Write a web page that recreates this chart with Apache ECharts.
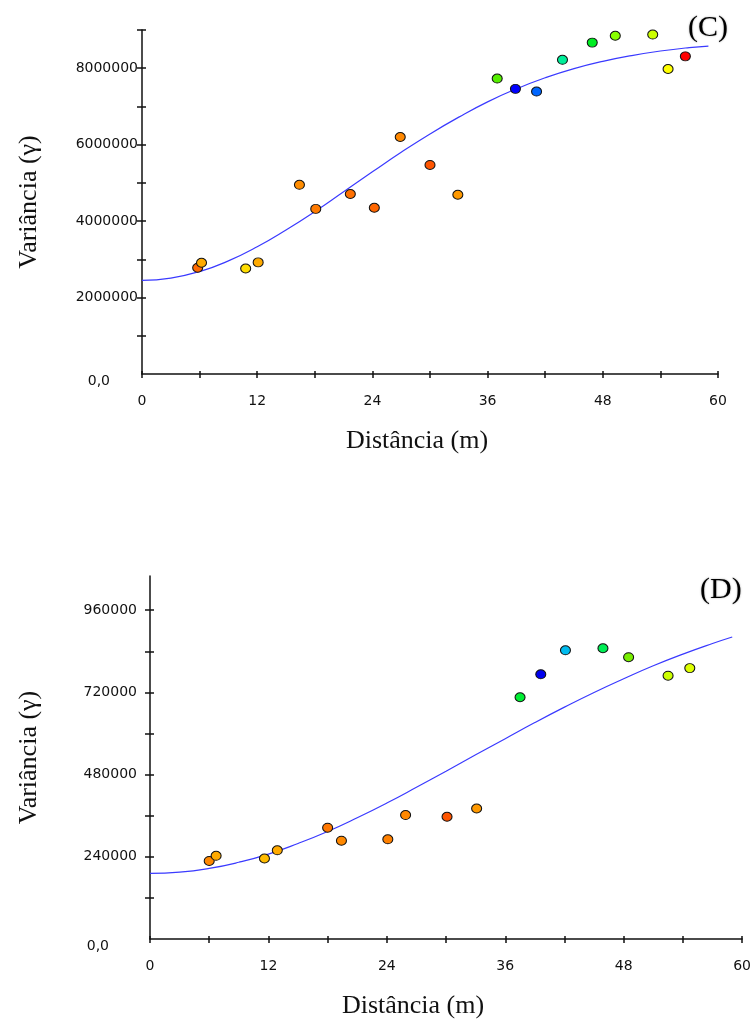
<!DOCTYPE html>
<html>
<head>
<meta charset="utf-8">
<title>Variogramas (C) e (D)</title>
<script src="https://cdn.jsdelivr.net/npm/echarts@6/dist/echarts.min.js"></script>
<style>
  html, body { margin: 0; padding: 0; background: #fff; }
  #chart { width: 754px; height: 1021px; }
</style>
</head>
<body>
<div id="chart"></div>
<script>
// (C) experimental variogram points
const distC = [5.8, 6.2, 10.8, 12.1, 16.4, 18.1, 21.7, 24.2, 26.9, 30.0, 32.9, 37.0, 38.9, 41.1, 43.8, 46.9, 49.3, 53.2, 54.8, 56.6];
const gammaC = [2780000, 2910000, 2760000, 2920000, 4950000, 4320000, 4710000, 4350000, 6200000, 5470000, 4690000, 7730000, 7460000, 7390000, 8220000, 8670000, 8850000, 8880000, 7980000, 8310000];
const colorsC = ['#ff6a00', '#ffaa00', '#ffdd00', '#ffaa00', '#ff8c00', '#ff7a00', '#ff7000', '#ff6600', '#ff8800', '#ff5500', '#ff9900', '#55ee00', '#0000ff', '#0066ff', '#00ee99', '#00ee22', '#88ff00', '#ccff00', '#ffff00', '#ff0000'];

// (D) experimental variogram points
const distD = [6.0, 6.7, 11.6, 12.9, 18.0, 19.4, 24.1, 25.9, 30.1, 33.1, 37.5, 39.6, 42.1, 45.9, 48.5, 52.5, 54.7];
const gammaD = [228000, 243000, 235000, 259000, 325000, 287000, 291000, 362000, 357000, 381000, 706000, 773000, 843000, 849000, 823000, 769000, 791000];
const colorsD = ['#ff8800', '#ffaa00', '#ffbb00', '#ffaa00', '#ff7700', '#ff8800', '#ff8000', '#ff8800', '#ff5500', '#ff9900', '#00ee33', '#0000ee', '#00bbee', '#00ee55', '#77ee00', '#ccff00', '#ddff00'];

// fitted model curves
const curveX = [0, 3, 6, 9, 12, 15, 18, 21, 24, 27, 30, 33, 36, 39, 42, 45, 48, 51, 54, 57, 59];
const curveC = [2450000, 2510000, 2680000, 2960000, 3330000, 3770000, 4250000, 4770000, 5290000, 5800000, 6280000, 6720000, 7120000, 7460000, 7750000, 7990000, 8180000, 8330000, 8450000, 8540000, 8580000];
const curveD = [191500, 195000, 206000, 224000, 248000, 279000, 314000, 354000, 397000, 443000, 490000, 538000, 585000, 632000, 677000, 720000, 760000, 798000, 832000, 863000, 882000];

const xTicks = [0, 12, 24, 36, 48, 60];
const yLabelsC = [0, 2000000, 4000000, 6000000, 8000000];
const yLabelsD = [0, 240000, 480000, 720000, 960000];

const chart = echarts.init(document.getElementById('chart'), null, { renderer: 'canvas' });

const labelFont = { fontFamily: 'DejaVu Sans', fontSize: 14, color: '#111' };
const nameFont = { fontFamily: 'Liberation Serif', fontSize: 26, color: '#111' };
const axisLine = { show: true, lineStyle: { color: '#111', width: 1.5 } };

const zeroLabel = (v, shown) => {
  if (v === 0) return '{z|0,0}';
  return shown.indexOf(v) >= 0 ? String(v) : '';
};

function xAxisPair(grid, nameShift) {
  return [
    {
      type: 'value', gridIndex: grid, position: 'bottom', min: 0, max: 60, interval: 6,
      axisLine: axisLine,
      axisTick: { show: true, length: 4, lineStyle: { color: '#111', width: 1.5 } },
      axisLabel: Object.assign({
        margin: 20,
        formatter: v => xTicks.indexOf(v) >= 0 ? String(v) : ''
      }, labelFont),
      splitLine: { show: false },
      name: 'Distância (m)', nameLocation: 'middle', nameGap: 54,
      nameTextStyle: Object.assign({ padding: [0, nameShift, 0, 0] }, nameFont)
    },
    {
      // inner half of the crossing ticks
      type: 'value', gridIndex: grid, position: 'bottom', min: 0, max: 60, interval: 6,
      axisLine: { show: false },
      axisTick: { show: true, inside: true, length: 3, lineStyle: { color: '#111', width: 1.5 } },
      axisLabel: { show: false }, splitLine: { show: false }
    }
  ];
}

function yAxisPair(grid, max, interval, shown, ticks, margin, gap) {
  return [
    {
      type: 'value', gridIndex: grid, position: 'left', min: 0, max: max, interval: interval,
      axisLine: axisLine,
      axisTick: { show: true, length: 5, customValues: ticks, lineStyle: { color: '#111', width: 1.5 } },
      axisLabel: Object.assign({
        margin: margin,
        customValues: shown,
        formatter: v => zeroLabel(v, shown),
        rich: { z: Object.assign({ padding: [14, 28, 0, 0] }, labelFont) }
      }, labelFont),
      splitLine: { show: false },
      name: 'Variância (γ)', nameLocation: 'middle', nameGap: gap, nameRotate: 90,
      nameTextStyle: nameFont
    },
    {
      type: 'value', gridIndex: grid, position: 'left', min: 0, max: max, interval: interval,
      axisLine: { show: false },
      axisTick: { show: true, inside: true, length: 4, customValues: ticks, lineStyle: { color: '#111', width: 1.5 } },
      axisLabel: { show: false }, splitLine: { show: false }
    }
  ];
}

const ticksC = [1000000, 2000000, 3000000, 4000000, 5000000, 6000000, 7000000, 8000000, 9000000];
const ticksD = [120000, 240000, 360000, 480000, 600000, 720000, 840000, 960000];

function points(xs, ys, colors) {
  return xs.map((x, i) => ({ value: [x, ys[i]], itemStyle: { color: colors[i] } }));
}

const markerStyle = { borderColor: '#111', borderWidth: 1, opacity: 1 };
const curveStyle = { color: '#3a3aff', width: 1.2 };
const panelFont = { fontFamily: 'Liberation Serif', fontSize: 30, fontWeight: 'normal', color: '#000', textShadowColor: 'rgba(0,0,0,0.35)', textShadowBlur: 2 };

const options = {
  animation: false,
  backgroundColor: '#fff',
  title: [
    { text: '(C)', left: 683, top: 8, textStyle: panelFont },
    { text: '(D)', left: 695, top: 570, textStyle: panelFont }
  ],
  grid: [
    { left: 142, top: 30, width: 576, height: 344 },
    { left: 150, top: 576, width: 602, height: 363 }
  ],
  xAxis: xAxisPair(0, 26).concat(xAxisPair(1, 66)),
  yAxis: yAxisPair(0, 9000000, 1000000, yLabelsC, ticksC, 4, 100)
    .concat(yAxisPair(1, 1060000, 120000, yLabelsD, ticksD, 13, 108)),
  series: [
    {
      type: 'line', xAxisIndex: 0, yAxisIndex: 0, smooth: true, showSymbol: false,
      data: curveX.map((x, i) => [x, curveC[i]]), lineStyle: curveStyle, z: 2
    },
    {
      type: 'scatter', xAxisIndex: 0, yAxisIndex: 0, symbol: 'circle', symbolSize: [10, 9],
      data: points(distC, gammaC, colorsC), itemStyle: markerStyle, z: 3
    },
    {
      type: 'line', xAxisIndex: 2, yAxisIndex: 2, smooth: true, showSymbol: false,
      data: curveX.map((x, i) => [x, curveD[i]]), lineStyle: curveStyle, z: 2
    },
    {
      type: 'scatter', xAxisIndex: 2, yAxisIndex: 2, symbol: 'circle', symbolSize: [10, 9],
      data: points(distD, gammaD, colorsD), itemStyle: markerStyle, z: 3
    }
  ]
};

chart.setOption(options);
</script>
</body>
</html>
